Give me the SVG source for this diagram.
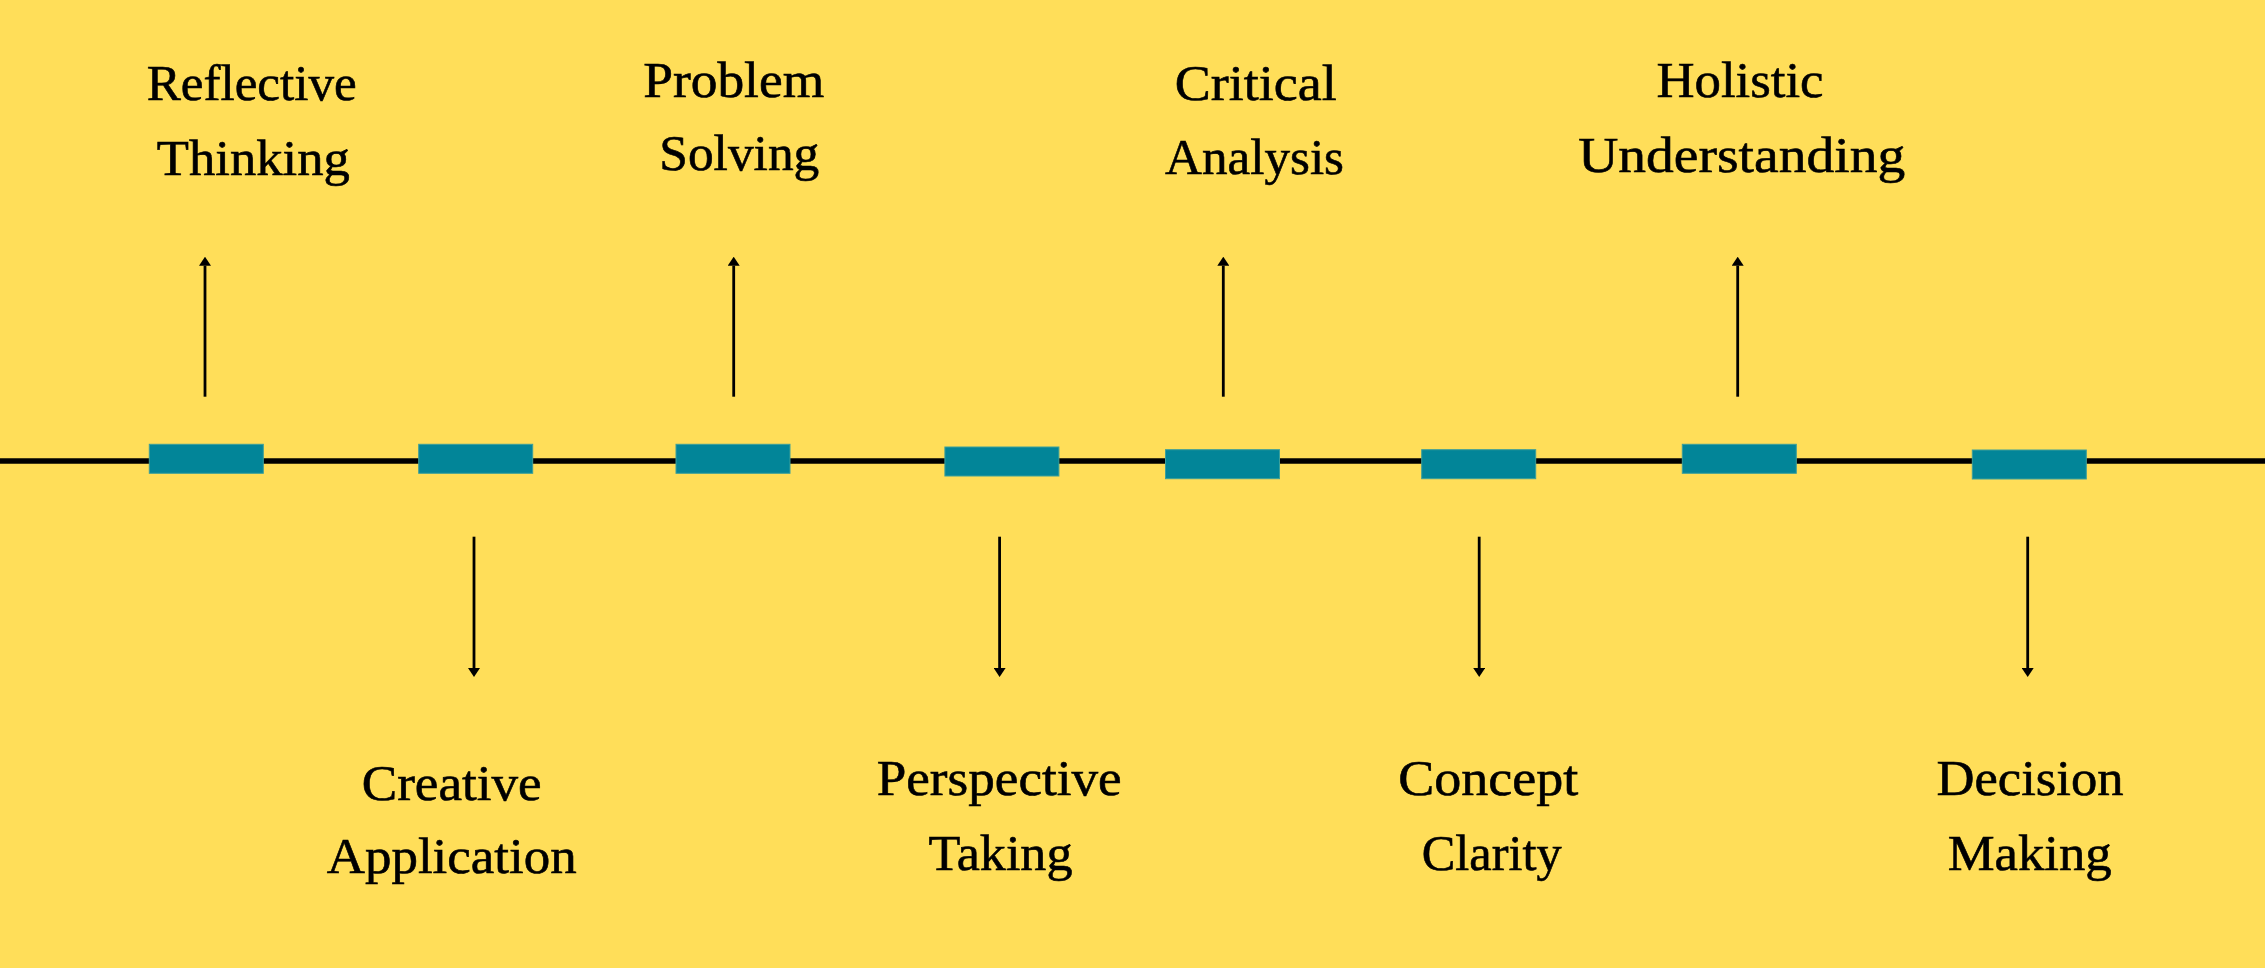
<svg xmlns="http://www.w3.org/2000/svg" width="2265" height="968" viewBox="0 0 2265 968">
  <defs>
    <marker id="head" viewBox="0 0 9 12" refX="0" refY="6" markerWidth="9" markerHeight="12" markerUnits="userSpaceOnUse" orient="auto">
      <path d="M0,0 L9,6 L0,12 Z" fill="#000"/>
    </marker>
    <style>
      .bar { fill: #028598; stroke: #3c9f9a; stroke-width: 1; }
      .arrow { stroke: #000; stroke-width: 2.8; fill: none; marker-end: url(#head); }
      .lbl { font-family: "Liberation Serif", "DejaVu Serif", serif; font-size: 50px; fill: #000; stroke: #000; stroke-width: 0.6; text-anchor: middle; }
    </style>
  </defs>
  <rect x="0" y="0" width="2265" height="968" fill="#FFDE59"/>
  <g id="connectors">
    <line x1="0" y1="461" x2="2265" y2="461" stroke="#000" stroke-width="5.5"/>
    <line class="arrow" x1="205" y1="396.7" x2="205" y2="265.7"/>
    <line class="arrow" x1="474" y1="536.7" x2="474" y2="668"/>
    <line class="arrow" x1="733.7" y1="396.7" x2="733.7" y2="265.7"/>
    <line class="arrow" x1="999.6" y1="536.7" x2="999.6" y2="668"/>
    <line class="arrow" x1="1223.3" y1="396.7" x2="1223.3" y2="265.7"/>
    <line class="arrow" x1="1479.2" y1="536.7" x2="1479.2" y2="668"/>
    <line class="arrow" x1="1737.7" y1="396.7" x2="1737.7" y2="265.7"/>
    <line class="arrow" x1="2027.7" y1="536.7" x2="2027.7" y2="668"/>
  </g>
  <g id="node-reflective-thinking">
    <rect class="bar" x="149.3" y="444.3" width="114" height="29"/>
    <text class="lbl" x="251.7" y="100" textLength="210" lengthAdjust="spacingAndGlyphs">Reflective</text>
    <text class="lbl" x="253.3" y="175" textLength="193" lengthAdjust="spacingAndGlyphs">Thinking</text>
  </g>
  <g id="node-creative-application">
    <rect class="bar" x="418.7" y="444.3" width="114" height="29"/>
    <text class="lbl" x="451.7" y="800" textLength="180" lengthAdjust="spacingAndGlyphs">Creative</text>
    <text class="lbl" x="451.7" y="873" textLength="250" lengthAdjust="spacingAndGlyphs">Application</text>
  </g>
  <g id="node-problem-solving">
    <rect class="bar" x="676" y="444.3" width="114" height="29"/>
    <text class="lbl" x="733.7" y="96.7" textLength="181" lengthAdjust="spacingAndGlyphs">Problem</text>
    <text class="lbl" x="739.3" y="170" textLength="160" lengthAdjust="spacingAndGlyphs">Solving</text>
  </g>
  <g id="node-perspective-taking">
    <rect class="bar" x="944.9" y="447" width="114" height="29"/>
    <text class="lbl" x="999.2" y="795" textLength="245" lengthAdjust="spacingAndGlyphs">Perspective</text>
    <text class="lbl" x="1000.5" y="870" textLength="144" lengthAdjust="spacingAndGlyphs">Taking</text>
  </g>
  <g id="node-critical-analysis">
    <rect class="bar" x="1165.5" y="449.7" width="114" height="29"/>
    <text class="lbl" x="1255.8" y="100" textLength="162" lengthAdjust="spacingAndGlyphs">Critical</text>
    <text class="lbl" x="1254.5" y="174" textLength="179" lengthAdjust="spacingAndGlyphs">Analysis</text>
  </g>
  <g id="node-concept-clarity">
    <rect class="bar" x="1421.7" y="449.7" width="114" height="29"/>
    <text class="lbl" x="1488.3" y="795" textLength="180" lengthAdjust="spacingAndGlyphs">Concept</text>
    <text class="lbl" x="1491.7" y="870" textLength="140" lengthAdjust="spacingAndGlyphs">Clarity</text>
  </g>
  <g id="node-holistic-understanding">
    <rect class="bar" x="1682.3" y="444.3" width="114" height="29"/>
    <text class="lbl" x="1740" y="96.7" textLength="167" lengthAdjust="spacingAndGlyphs">Holistic</text>
    <text class="lbl" x="1741.7" y="171.7" textLength="327" lengthAdjust="spacingAndGlyphs">Understanding</text>
  </g>
  <g id="node-decision-making">
    <rect class="bar" x="1972.3" y="450" width="114" height="29"/>
    <text class="lbl" x="2030" y="795" textLength="187" lengthAdjust="spacingAndGlyphs">Decision</text>
    <text class="lbl" x="2029.7" y="870" textLength="164" lengthAdjust="spacingAndGlyphs">Making</text>
  </g>
</svg>
